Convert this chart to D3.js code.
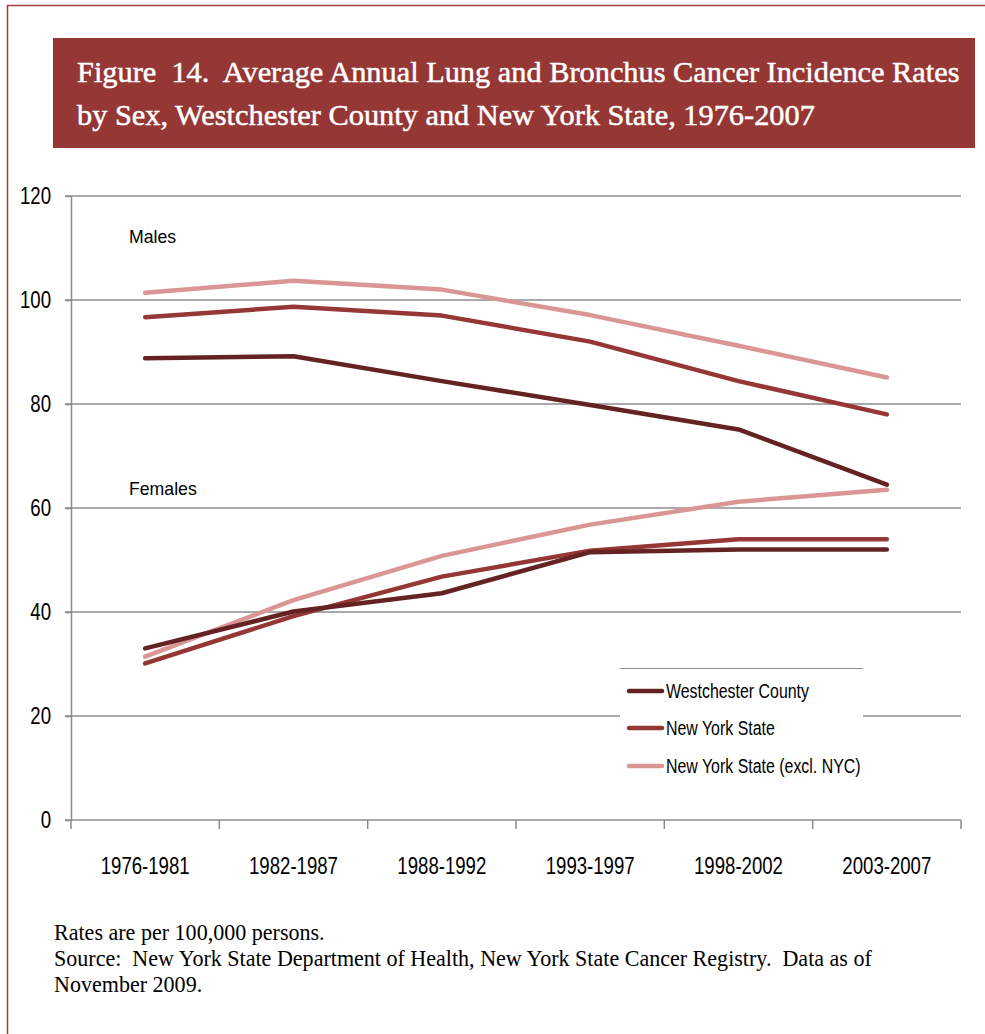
<!DOCTYPE html>
<html>
<head>
<meta charset="utf-8">
<script src="https://cdn.jsdelivr.net/npm/d3@7"></script>
<style>
  html, body { margin: 0; padding: 0; background: #fff; }
  svg { display: block; }
  text { white-space: pre; }
</style>
</head>
<body>
<svg id="chart" width="985" height="1034"></svg>
<script>
// Periods on the x axis
const periods = ["1976-1981", "1982-1987", "1988-1992", "1993-1997", "1998-2002", "2003-2007"];

// Incidence rates per 100,000 persons
const maleWestchester = [88.8, 89.2, 84.4, 79.8, 75.1, 64.5];
const maleNYS         = [96.7, 98.7, 97.0, 92.0, 84.4, 78.0];
const maleNYSexNYC    = [101.4, 103.7, 102.0, 97.1, 91.2, 85.1];

const femaleWestchester = [33.0, 40.1, 43.6, 51.5, 52.0, 52.0];
const femaleNYS         = [30.1, 39.2, 46.8, 51.8, 54.0, 54.0];
const femaleNYSexNYC    = [31.4, 42.3, 50.8, 56.8, 61.2, 63.5];

const seriesNames = ["Westchester County", "New York State", "New York State (excl. NYC)"];
const seriesColors = ["#642322", "#953735", "#d99694"];

const yTicks = [0, 20, 40, 60, 80, 100, 120];

const titleLines = [
  "Figure  14.  Average Annual Lung and Bronchus Cancer Incidence Rates",
  "by Sex, Westchester County and New York State, 1976-2007"
];
const noteLines = [
  "Rates are per 100,000 persons.",
  "Source:  New York State Department of Health, New York State Cancer Registry.  Data as of",
  "November 2009."
];

const svg = d3.select("#chart");
const sans = "'Liberation Sans', Arial, sans-serif";
const serif = "'Liberation Serif', 'DejaVu Serif', serif";

// squeeze text horizontally to a narrow face
function condense(sel, factor) {
  sel.each(function () {
    const w = this.getComputedTextLength();
    d3.select(this).attr("textLength", w * factor).attr("lengthAdjust", "spacingAndGlyphs");
  });
}

// Page frame
svg.append("path")
  .attr("d", "M7.5,1034 V5.5 H985")
  .attr("fill", "none")
  .attr("stroke", "#a0403e")
  .attr("stroke-width", 1.5);

// Title banner
svg.append("rect")
  .attr("x", 53).attr("y", 38).attr("width", 922).attr("height", 110)
  .attr("fill", "#953735");

const titleG = svg.append("g");
titleLines.forEach((t, i) => {
  titleG.append("text")
    .attr("x", 77).attr("y", i === 0 ? 82 : 125)
    .attr("fill", "#fff")
    .attr("stroke", "#fff").attr("stroke-width", 0.5)
    .attr("font-family", serif)
    .attr("font-size", 27)
    .text(t);
});
// size the title so the first line spans the banner
{
  const first = titleG.select("text").node();
  const w = first.getComputedTextLength();
  titleG.selectAll("text").attr("font-size", 27 * 883 / w);
}

// Scales
const x = d3.scaleBand().domain(periods).range([71, 961]).padding(0);
const y = d3.scaleLinear().domain([0, 120]).range([820, 196]);
const cx = d => x(d) + x.bandwidth() / 2;

// Horizontal gridlines
svg.append("g")
  .selectAll("line")
  .data(yTicks.filter(v => v > 0))
  .join("line")
  .attr("x1", 65).attr("x2", 961)
  .attr("y1", d => y(d)).attr("y2", d => y(d))
  .attr("stroke", "#8c8c8c").attr("stroke-width", 1.5);

// Y axis
const yAxis = svg.append("g")
  .attr("transform", "translate(71,0)")
  .call(d3.axisLeft(y).tickValues(yTicks).tickSize(6).tickSizeOuter(0).tickPadding(14));
yAxis.select(".domain").attr("stroke", "#8c8c8c").attr("stroke-width", 1.5);
yAxis.selectAll(".tick line").attr("stroke", "#8c8c8c").attr("stroke-width", 1.5);
yAxis.selectAll(".tick text")
  .attr("font-family", sans).attr("font-size", 24).attr("fill", "#000")
  .call(condense, 0.775);

// X axis (ticks on category boundaries)
const xAxis = svg.append("g").attr("transform", "translate(0,820)");
xAxis.append("line")
  .attr("x1", 65).attr("x2", 961)
  .attr("stroke", "#8c8c8c").attr("stroke-width", 1.5);
const boundaries = periods.map(p => x(p)).concat([x.range()[1]]);
xAxis.selectAll("line.b")
  .data(boundaries)
  .join("line")
  .attr("class", "b")
  .attr("x1", d => d).attr("x2", d => d)
  .attr("y1", 0).attr("y2", 9)
  .attr("stroke", "#8c8c8c").attr("stroke-width", 1.5);
xAxis.selectAll("text")
  .data(periods)
  .join("text")
  .attr("x", d => cx(d)).attr("y", 54)
  .attr("text-anchor", "middle")
  .attr("font-family", sans).attr("font-size", 24).attr("fill", "#000")
  .text(d => d)
  .call(condense, 0.775);

// Lines
const line = d3.line().x((d, i) => cx(periods[i])).y(d => y(d));
const groups = [
  [maleWestchester, maleNYS, maleNYSexNYC],
  [femaleWestchester, femaleNYS, femaleNYSexNYC]
];
const plot = svg.append("g");
groups.forEach(set => {
  // light series first so darker ones sit above it
  [2, 1, 0].forEach(k => {
    plot.append("path")
      .datum(set[k])
      .attr("d", line)
      .attr("fill", "none")
      .attr("stroke", seriesColors[k])
      .attr("stroke-width", 4.5)
      .attr("stroke-linecap", "round")
      .attr("stroke-linejoin", "round");
  });
});

// Group labels
svg.append("text").attr("x", 129).attr("y", 243)
  .attr("font-family", sans).attr("font-size", 19).attr("fill", "#000")
  .text("Males").call(condense, 0.93);
svg.append("text").attr("x", 129).attr("y", 495)
  .attr("font-family", sans).attr("font-size", 19).attr("fill", "#000")
  .text("Females").call(condense, 0.93);

// Legend
const legend = svg.append("g");
legend.append("rect")
  .attr("x", 620).attr("y", 668).attr("width", 243).attr("height", 122)
  .attr("fill", "#fff");
legend.append("line")
  .attr("x1", 620).attr("x2", 863).attr("y1", 668.5).attr("y2", 668.5)
  .attr("stroke", "#8c8c8c").attr("stroke-width", 1);
const legendY = [691, 728, 766];
seriesNames.forEach((name, k) => {
  legend.append("line")
    .attr("x1", 629).attr("x2", 662)
    .attr("y1", legendY[k]).attr("y2", legendY[k])
    .attr("stroke", seriesColors[k]).attr("stroke-width", 4.5)
    .attr("stroke-linecap", "round");
  legend.append("text")
    .attr("x", 666).attr("y", legendY[k] + 7)
    .attr("font-family", sans).attr("font-size", 20).attr("fill", "#000")
    .text(name);
});
{
  const first = legend.select("text").node();
  const f = 143 / first.getComputedTextLength();
  legend.selectAll("text").call(condense, f);
}

// Notes
const notes = svg.append("g");
noteLines.forEach((t, i) => {
  notes.append("text")
    .attr("x", 54).attr("y", 940 + i * 26)
    .attr("font-family", serif).attr("font-size", 17).attr("fill", "#000")
    .text(t);
});
{
  const second = notes.selectAll("text").nodes()[1];
  const w = second.getComputedTextLength();
  notes.selectAll("text").attr("font-size", 17 * 818 / w);
}
</script>
</body>
</html>
